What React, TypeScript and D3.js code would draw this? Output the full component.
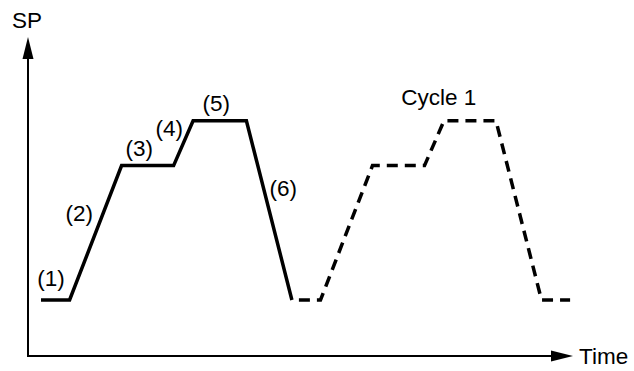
import React from "react";
import * as d3 from "d3";

// Profile data (time units, SP units)
const cycle0Time = [5, 16, 36, 56, 63.5, 84, 101.5];
const cycle0SP = [20, 20, 68, 68, 84, 84, 20];
const cycle1Time = [101.5, 112.5, 132.5, 152.5, 160, 180, 197.5, 208.5];
const cycle1SP = [20, 20, 68, 68, 84, 84, 20, 20];

const stepLabels = ["(1)", "(2)", "(3)", "(4)", "(5)", "(6)"];
const stepLabelTime = [3.6, 14.4, 37.5, 49.0, 67.1, 92.9];
const stepLabelSP = [25, 48.2, 71.4, 78.6, 87.5, 57.1];
const cycleLabel = "Cycle 1";
const cycleLabelTime = 143.6;
const cycleLabelSP = 89.6;

const xAxisLabel = "Time";
const yAxisLabel = "SP";

const W = 634;
const H = 371;

export default function App() {
  const x = d3.scaleLinear().domain([0, 210]).range([28, 574]);
  const y = d3.scaleLinear().domain([0, 100]).range([356, 76]);

  const line = d3
    .line<[number, number]>()
    .x((d) => x(d[0]))
    .y((d) => y(d[1]));

  const solid = cycle0Time.map((t, i) => [t, cycle0SP[i]] as [number, number]);
  const dashed = cycle1Time.map((t, i) => [t, cycle1SP[i]] as [number, number]);

  const x0 = x(0);
  const y0 = y(0);
  const font = "'Liberation Sans', Arial, Helvetica, sans-serif";
  const fs = 22.5;

  return (
    <svg
      width={W}
      height={H}
      style={{ position: "absolute", left: 0, top: 0, display: "block", background: "#fff" }}
    >
      {/* Y axis */}
      <line x1={x0} y1={y0 + 1} x2={x0} y2={58} stroke="#000" strokeWidth={2} />
      <polygon points={`${x0},37 ${x0 - 5.5},59 ${x0 + 5.5},59`} fill="#000" />
      {/* X axis */}
      <line x1={x0 - 1} y1={y0} x2={552} y2={y0} stroke="#000" strokeWidth={2} />
      <polygon points={`573,${y0} 551,${y0 - 5.5} 551,${y0 + 5.5}`} fill="#000" />

      <text x={12} y={28} fontFamily={font} fontSize={fs} fill="#000">
        {yAxisLabel}
      </text>
      <text x={579} y={364} fontFamily={font} fontSize={fs} fill="#000">
        {xAxisLabel}
      </text>

      <path
        d={line(solid) || ""}
        fill="none"
        stroke="#000"
        strokeWidth={3.5}
        strokeLinejoin="miter"
      />
      <path
        d={line(dashed) || ""}
        fill="none"
        stroke="#000"
        strokeWidth={3.5}
        strokeDasharray="11 7"
        strokeDashoffset={-7}
      />

      {stepLabels.map((s, i) => (
        <text
          key={s}
          x={x(stepLabelTime[i])}
          y={y(stepLabelSP[i])}
          fontFamily={font}
          fontSize={fs}
          fill="#000"
        >
          {s}
        </text>
      ))}
      <text
        x={x(cycleLabelTime)}
        y={y(cycleLabelSP)}
        fontFamily={font}
        fontSize={fs}
        fill="#000"
      >
        {cycleLabel}
      </text>
    </svg>
  );
}
